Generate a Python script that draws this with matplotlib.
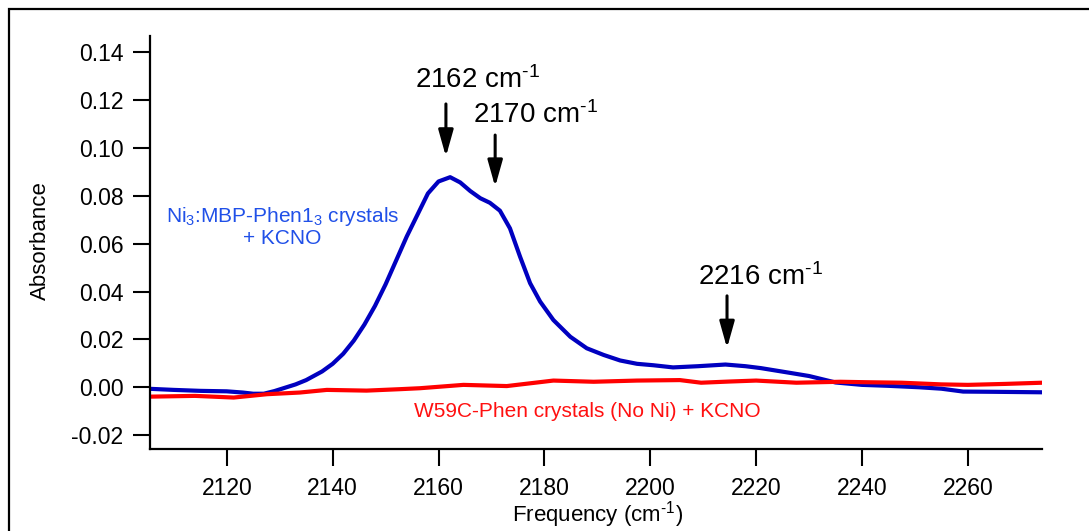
import matplotlib
matplotlib.use("Agg")
from matplotlib import pyplot as plt
from matplotlib.patches import Rectangle

plt.rcParams['font.family'] = ['Liberation Sans', 'DejaVu Sans']
plt.rcParams['mathtext.fontset'] = 'custom'
plt.rcParams['mathtext.rm'] = 'Liberation Sans'
plt.rcParams['mathtext.it'] = 'Liberation Sans:italic'
plt.rcParams['mathtext.bf'] = 'Liberation Sans:bold'
plt.rcParams['mathtext.default'] = 'regular'
plt.rcParams['axes.unicode_minus'] = False

# blue: Ni3:MBP-Phen1_3 crystals + KCNO
blue_x = [2106.0, 2110, 2115, 2120, 2123, 2125, 2127, 2129, 2131, 2133, 2135, 2138, 2140,
          2142, 2144, 2146, 2148, 2150, 2152, 2154, 2156, 2158, 2160.0, 2162.2, 2164.1,
          2166.0, 2167.9, 2169.7, 2171.6, 2173.5, 2175.4, 2177.3, 2179.2, 2181.7, 2184.9,
          2188.0, 2191.2, 2194.3, 2197.5, 2200.6, 2204.3, 2209, 2214.2, 2218, 2220.9,
          2225.9, 2230, 2235, 2240, 2245, 2250.8, 2255, 2259.1, 2265, 2274.0]
blue_y = [-0.0007, -0.0011, -0.0015, -0.0017, -0.0022, -0.0027, -0.0027, -0.0016, -0.0002,
          0.0012, 0.0030, 0.0066, 0.0098, 0.0140, 0.0195, 0.0262, 0.0340, 0.0430, 0.0530,
          0.0630, 0.0720, 0.0810, 0.0860, 0.0878, 0.0856, 0.0820, 0.0790, 0.0771, 0.0738,
          0.0664, 0.0546, 0.0435, 0.0358, 0.0281, 0.0211, 0.0163, 0.0135, 0.0112, 0.0098,
          0.0092, 0.0083, 0.0088, 0.0095, 0.0088, 0.0080, 0.0062, 0.0047, 0.0020, 0.0010,
          0.0006, 0.0000, -0.0006, -0.0018, -0.0019, -0.0021]

# red: W59C-Phen crystals (No Ni) + KCNO
red_x = [2106.0, 2114, 2121.3, 2127.6, 2133.8, 2138.9, 2146.4, 2152.7, 2156.5, 2164.7, 2172.9,
         2181.7, 2189.3, 2197.5, 2205.6, 2209.6, 2215, 2220, 2227.6, 2235.9, 2241, 2247.5,
         2255, 2260, 2267, 2274.0]
red_y = [-0.0039, -0.0036, -0.0043, -0.0029, -0.0022, -0.0011, -0.0014, -0.0008, -0.0004, 0.0010,
         0.0005, 0.0028, 0.0023, 0.0028, 0.0030, 0.0019, 0.0024, 0.0028, 0.0019, 0.0023, 0.0021,
         0.0019, 0.0012, 0.0010, 0.0014, 0.0019]

xticks = [2120, 2140, 2160, 2180, 2200, 2220, 2240, 2260]
yticks = [-0.02, 0.00, 0.02, 0.04, 0.06, 0.08, 0.10, 0.12, 0.14]
ytick_labels = ["-0.02", "0.00", "0.02", "0.04", "0.06", "0.08", "0.10", "0.12", "0.14"]

# peak labels: (text, text x, text baseline y, arrow x, arrow top y, arrow tip y)
peaks = [(r"2162 cm$^{\text{-1}}$", 2155.6, 0.1251, 2161.4, 0.1184, 0.0964),
         (r"2170 cm$^{\text{-1}}$", 2166.6, 0.1104, 2170.7, 0.1054, 0.0838),
         (r"2216 cm$^{\text{-1}}$", 2209.0, 0.0428, 2214.5, 0.0382, 0.0164)]

fig = plt.figure(figsize=(10.89, 5.31), dpi=100)
ax = fig.add_axes([150/1089, 1-449/531, 892/1089, 413/531])

ax.plot(blue_x, blue_y, color='#0000c0', lw=3.0, solid_joinstyle='round')
ax.plot(red_x, red_y, color='#ff0000', lw=3.0, solid_joinstyle='round')

ax.set_xlim(2105.5, 2274.0)
ax.set_ylim(-0.0258, 0.1468)
ax.set_xticks(xticks)
ax.set_yticks(yticks)
ax.set_yticklabels(ytick_labels)
ax.tick_params(direction='out', length=12, width=1.5, labelsize=16.5)
ax.tick_params(axis='x', pad=8)
ax.tick_params(axis='y', pad=7)
for s in ['top', 'right']:
    ax.spines[s].set_visible(False)
for s in ['left', 'bottom']:
    ax.spines[s].set_linewidth(1.6)

for txt, tx, ty, axx, ytop, ytip in peaks:
    ax.text(tx, ty, txt, fontsize=20, ha='left', va='baseline')
    ax.annotate('', xy=(axx, ytip), xytext=(axx, ytop),
                arrowprops=dict(arrowstyle='-|>,head_length=1.6,head_width=0.45',
                                mutation_scale=10, lw=2.2, color='black',
                                shrinkA=0, shrinkB=0))

ax.text(2130.5, 0.0672, "Ni$_3$:MBP-Phen1$_3$ crystals\n+ KCNO", color='#2050e8',
        fontsize=15, ha='center', va='center', multialignment='center', linespacing=1.1)
ax.text(2188.2, -0.0103, "W59C-Phen crystals (No Ni) + KCNO", color='#ff1010',
        fontsize=15, ha='center', va='center')

fig.text(40/1089, 1-241/531, "Absorbance", rotation=90, fontsize=16, ha='center', va='center')
fig.text(598/1089, 1.5/531, r"Frequency (cm$^{\text{-1}}$)", fontsize=16, ha='center', va='bottom')

fig.patches.append(Rectangle((8.5/1089, -0.2), 1.2, 1.2-9/531, fill=False, lw=1.6,
                             edgecolor='black', transform=fig.transFigure, figure=fig))

fig.savefig("out.png", dpi=100)
